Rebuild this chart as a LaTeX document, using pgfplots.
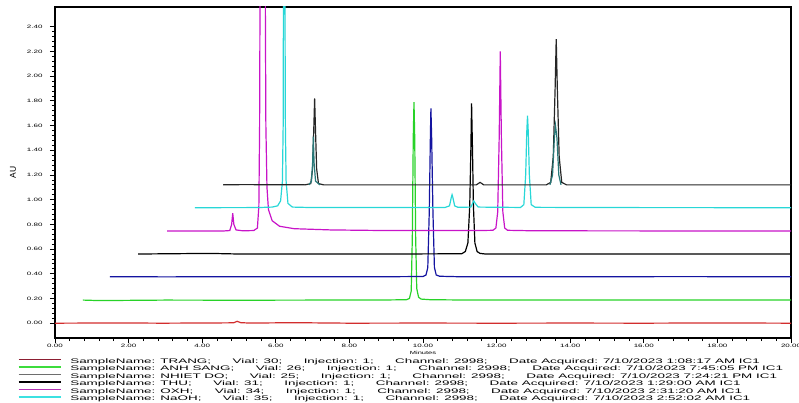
\documentclass[border=0pt]{standalone}
\usepackage{fontspec}
\setmainfont{Liberation Sans}
\usepackage{graphicx}
\usepackage{pgfplots}
\pgfplotsset{compat=1.18}
\definecolor{cRed}{RGB}{210,45,45}
\definecolor{cGreen}{RGB}{40,210,40}
\definecolor{cBlue}{RGB}{20,20,160}
\definecolor{cMag}{RGB}{200,20,200}
\definecolor{cCyan}{RGB}{40,215,215}
\definecolor{cTeal}{RGB}{40,120,120}
\definecolor{lRed}{RGB}{140,30,50}
\definecolor{lGreen}{RGB}{60,220,60}
\definecolor{lGray}{RGB}{110,110,110}
\definecolor{lMag}{RGB}{180,50,180}
\definecolor{lCyan}{RGB}{60,225,225}
\newcommand{\lt}[1]{\scalebox{1.12}[0.55]{\fontsize{12}{12}\selectfont #1}}
\newcommand{\sep}{\hspace{1.6em}}
\begin{document}
\begin{tikzpicture}
\begin{axis}[
  scale only axis, width=736pt, height=331pt,
  xmin=0, xmax=20, ymin=-0.12, ymax=2.56,
  xtick={0,2,4,6,8,10,12,14,16,18,20},
  ytick={0,0.2,0.4,0.6,0.8,1.0,1.2,1.4,1.6,1.8,2.0,2.2,2.4},
  minor x tick num=4, minor y tick num=4,
  tick align=outside, xtick pos=bottom, ytick pos=left,
  major tick length=5pt, minor tick length=3pt,
  tick style={black, line width=0.8pt},
  axis line style={black, line width=1.3pt},
  /pgf/number format/assume math mode=true,
  tick label style={font=\fontsize{8}{8}\selectfont},
  xticklabel={\scalebox{1}[0.6]{\pgfmathprintnumber[fixed,fixed zerofill,precision=2]{\tick}}},
  yticklabel={\scalebox{1}[0.6]{\pgfmathprintnumber[fixed,fixed zerofill,precision=2]{\tick}}},
  yticklabel style={xshift=-4pt},
  xticklabel style={yshift=2pt},
  xlabel={\scalebox{1}[0.6]{Minutes}},
  xlabel style={font=\fontsize{7.5}{7.5}\selectfont, at={(axis description cs:0.5,0)}, anchor=center, yshift=-15pt},
  ylabel={AU},
  ylabel style={font=\fontsize{8.5}{8.5}\selectfont, at={(axis description cs:-0.057,0.5)}, anchor=center},
  legend image code/.code={\draw[#1] (0pt,2.3pt) -- (42pt,2.3pt);},
  legend cell align=left,
  legend style={at={(0,0)}, anchor=north west, xshift=-37pt, yshift=-20pt,
    draw=none, fill=none, inner sep=0pt, outer sep=0pt, row sep=0pt,
    nodes={inner sep=0pt, text height=5pt, text depth=2.5pt},
    /tikz/every odd column/.append style={column sep=9pt}},
]
% TRANG
\addplot[cRed, line width=1.2pt, forget plot] coordinates {
(0,0.000)(1.8,0.002)(2.9,0.000)(4.4,0.002)(4.85,0.003)(4.95,0.015)(5.05,0.004)(5.3,0.001)(6.5,0.004)(8,0.000)(10,0.001)(12,0.000)(14,0.001)(16,0.000)(18,0.002)(20,0.000)};
% ANH SANG
\addplot[cGreen, line width=1.2pt, forget plot] coordinates {
(0.76,0.187)(1.2,0.183)(3,0.187)(5,0.186)(7,0.187)(9.0,0.188)(9.55,0.19)(9.63,0.20)(9.68,0.26)(9.71,0.7)(9.735,1.5)(9.755,1.79)(9.775,1.5)(9.80,0.7)(9.83,0.28)(9.88,0.21)(9.95,0.195)(10.2,0.19)(11,0.188)(13,0.187)(15,0.188)(17,0.187)(20,0.187)};
% NHIET DO
\addplot[cBlue, line width=1.2pt, forget plot] coordinates {
(1.49,0.376)(3,0.375)(5,0.376)(7,0.376)(9,0.376)(10.0,0.378)(10.08,0.39)(10.13,0.45)(10.17,0.9)(10.20,1.5)(10.215,1.74)(10.235,1.5)(10.27,0.9)(10.31,0.45)(10.36,0.39)(10.45,0.38)(11,0.376)(14,0.376)(17,0.377)(20,0.376)};
% THU
\addplot[black, line width=1.2pt, forget plot] coordinates {
(2.26,0.56)(4.2,0.565)(5,0.56)(9,0.56)(11.05,0.562)(11.15,0.58)(11.22,0.65)(11.27,0.95)(11.30,1.4)(11.32,1.78)(11.345,1.4)(11.37,0.95)(11.41,0.65)(11.47,0.58)(11.55,0.565)(11.7,0.56)(13,0.56)(20,0.56)};
% OXH
\addplot[cMag, line width=1.2pt, forget plot] coordinates {
(3.05,0.746)(4.6,0.747)(4.75,0.75)(4.80,0.80)(4.83,0.89)(4.86,0.80)(4.92,0.755)(5.1,0.748)(5.4,0.75)(5.50,0.77)(5.54,0.95)(5.56,1.6)(5.575,3.0)(5.71,3.0)(5.73,1.6)(5.76,1.1)(5.80,0.92)(5.9,0.83)(6.1,0.785)(6.5,0.765)(7.5,0.755)(9,0.75)(11.5,0.75)(11.9,0.752)(11.98,0.77)(12.03,0.9)(12.07,1.5)(12.10,2.20)(12.13,1.5)(12.17,0.9)(12.22,0.77)(12.3,0.752)(13,0.748)(20,0.746)};
% NaOH
\addplot[cCyan, line width=1.2pt, forget plot] coordinates {
(3.8,0.935)(5.5,0.936)(5.9,0.94)(6.05,0.95)(6.13,0.99)(6.18,1.15)(6.20,1.6)(6.21,3.0)(6.245,3.0)(6.26,1.6)(6.28,1.15)(6.33,0.97)(6.45,0.94)(7,0.936)(10.6,0.937)(10.72,0.95)(10.77,1.02)(10.79,1.04)(10.81,1.02)(10.86,0.95)(10.95,0.938)(11.3,0.94)(11.38,0.99)(11.42,0.97)(11.5,0.94)(12.65,0.937)(12.74,0.96)(12.79,1.2)(12.82,1.55)(12.84,1.68)(12.86,1.55)(12.89,1.2)(12.94,0.96)(13.05,0.938)(15,0.936)(20,0.935)};
% top trace
\addplot[black!85, line width=1.2pt, forget plot] coordinates {
(4.57,1.12)(5.1,1.122)(6.8,1.12)(6.95,1.13)(7.0,1.25)(7.03,1.55)(7.055,1.82)(7.08,1.55)(7.11,1.25)(7.16,1.13)(7.3,1.12)(11.45,1.12)(11.55,1.14)(11.65,1.12)(13.35,1.12)(13.47,1.14)(13.54,1.35)(13.59,1.9)(13.62,2.30)(13.65,1.9)(13.70,1.35)(13.77,1.14)(13.9,1.12)(20,1.12)};
\addplot[cTeal, line width=1.2pt, forget plot] coordinates {
(6.9,1.12)(6.97,1.15)(7.0,1.3)(7.02,1.51)(7.04,1.3)(7.08,1.15)(7.2,1.12)};
\addplot[cTeal, line width=1.2pt, forget plot] coordinates {
(13.45,1.12)(13.52,1.2)(13.57,1.5)(13.60,1.6)(13.64,1.5)(13.69,1.2)(13.75,1.12)};
\coordinate (bl) at (rel axis cs:0,0);
\coordinate (tr) at (rel axis cs:1,1);
\addlegendimage{lRed, line width=1pt}
\addlegendentry{\lt{SampleName: TRANG;\sep Vial: 30;\sep Injection: 1;\sep Channel: 2998;\sep Date Acquired: 7/10/2023 1:08:17 AM IC1}}
\addlegendimage{lGreen, line width=1.3pt}
\addlegendentry{\lt{SampleName: ANH SANG;\sep Vial: 26;\sep Injection: 1;\sep Channel: 2998;\sep Date Acquired: 7/10/2023 7:45:05 PM IC1}}
\addlegendimage{lGray, line width=1.3pt}
\addlegendentry{\lt{SampleName: NHIET DO;\sep Vial: 25;\sep Injection: 1;\sep Channel: 2998;\sep Date Acquired: 7/10/2023 7:24:21 PM IC1}}
\addlegendimage{black, line width=1.3pt}
\addlegendentry{\lt{SampleName: THU;\sep Vial: 31;\sep Injection: 1;\sep Channel: 2998;\sep Date Acquired: 7/10/2023 1:29:00 AM IC1}}
\addlegendimage{lMag, line width=1.3pt}
\addlegendentry{\lt{SampleName: OXH;\sep Vial: 34;\sep Injection: 1;\sep Channel: 2998;\sep Date Acquired: 7/10/2023 2:31:20 AM IC1}}
\addlegendimage{lCyan, line width=1.3pt}
\addlegendentry{\lt{SampleName: NaOH;\sep Vial: 35;\sep Injection: 1;\sep Channel: 2998;\sep Date Acquired: 7/10/2023 2:52:02 AM IC1}}
\end{axis}
\pgfresetboundingbox
\path[use as bounding box] ([xshift=-55pt,yshift=-64pt]bl) rectangle ([xshift=8pt,yshift=7pt]tr);
\end{tikzpicture}
\end{document}
